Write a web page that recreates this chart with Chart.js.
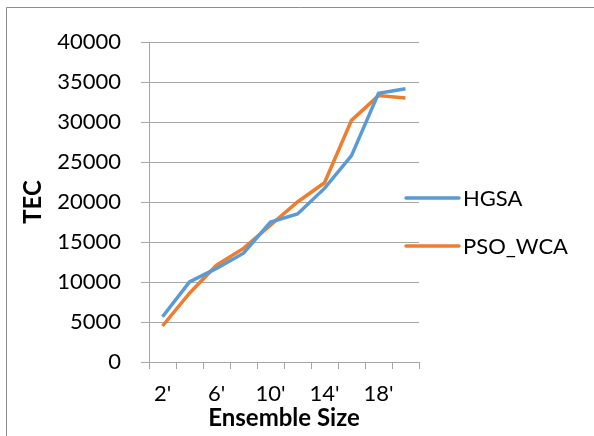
<!DOCTYPE html>
<html>
<head>
<meta charset="utf-8">
<script src="https://cdn.jsdelivr.net/npm/chart.js@4/dist/chart.umd.min.js"></script>
<style>
html,body{margin:0;padding:0;background:#fff;}
#wrap{width:594px;height:436px;position:relative;}
</style>
</head>
<body>
<div id="wrap"><canvas id="c" width="594" height="436"></canvas></div>
<script>
const categories = ["2'", "4'", "6'", "8'", "10'", "12'", "14'", "16'", "18'", "20'"];
const hgsa = [5650, 10000, 11700, 13600, 17500, 18500, 21700, 25800, 33600, 34150];
const psoWca = [4500, 8600, 12100, 14200, 17100, 20000, 22400, 30200, 33300, 33000];
const seriesNames = ["HGSA", "PSO_WCA"];
const seriesColors = ["#5B9BD5", "#ED7D31"];
const yTicks = [0, 5000, 10000, 15000, 20000, 25000, 30000, 35000, 40000];
const xTitle = "Ensemble Size";
const yTitle = "TEC";

const FONT = "Lato, 'Open Sans', sans-serif";
const AXIS = "#A6A6A6";

const borderPlugin = {
  id: 'border',
  beforeDraw(chart) {
    const ctx = chart.ctx;
    ctx.save();
    ctx.strokeStyle = '#8c8c8c';
    ctx.lineWidth = 1;
    ctx.beginPath();
    ctx.moveTo(6.5, 436);
    ctx.lineTo(6.5, 7.5);
    ctx.lineTo(594, 7.5);
    ctx.stroke();
    ctx.restore();
  }
};

const legendPlugin = {
  id: 'customLegend',
  afterDraw(chart) {
    const ctx = chart.ctx;
    ctx.save();
    const ys = [198, 246];
    chart.data.datasets.forEach((ds, i) => {
      ctx.strokeStyle = ds.borderColor;
      ctx.lineWidth = 3.5;
      ctx.lineCap = 'round';
      ctx.beginPath();
      ctx.moveTo(406, ys[i]);
      ctx.lineTo(459, ys[i]);
      ctx.stroke();
      ctx.fillStyle = '#000';
      ctx.font = "22px " + FONT;
      ctx.textBaseline = 'middle';
      ctx.textAlign = 'left';
      ctx.fillText(ds.label, 463, ys[i] + 1);
    });
    ctx.restore();
  }
};

new Chart(document.getElementById('c'), {
  type: 'line',
  data: {
    labels: categories,
    datasets: [
      { label: seriesNames[0], data: hgsa, borderColor: seriesColors[0], backgroundColor: seriesColors[0], borderWidth: 3.5, pointRadius: 0, tension: 0, fill: false },
      { label: seriesNames[1], data: psoWca, borderColor: seriesColors[1], backgroundColor: seriesColors[1], borderWidth: 3.5, pointRadius: 0, tension: 0, fill: false }
    ]
  },
  options: {
    responsive: false,
    animation: false,
    devicePixelRatio: 1,
    layout: { padding: { top: 42, right: 175, bottom: 0, left: 0 } },
    plugins: { legend: { display: false }, tooltip: { enabled: false } },
    scales: {
      x: {
        offset: true,
        grid: { offset: true, drawOnChartArea: false, drawTicks: true, tickLength: 7, color: AXIS },
        border: { color: AXIS, width: 1 },
        ticks: {
          autoSkip: false, maxRotation: 0, padding: 12, color: '#000',
          font: { family: FONT, size: 22 },
          callback: function(v, i) { return i % 2 === 0 ? categories[i] : ''; }
        },
        title: { display: true, text: xTitle, color: '#000', font: { family: FONT, size: 24, weight: 'bold' }, padding: { top: 0, bottom: 3 } },
        afterFit(scale) { scale.height = 74; }
      },
      y: {
        min: 0, max: 40000,
        afterBuildTicks(scale) { scale.ticks = yTicks.map(v => ({ value: v })); },
        grid: { color: AXIS, tickLength: 8, drawTicks: true },
        border: { color: AXIS, width: 1 },
        ticks: { padding: 20, color: '#000', font: { family: FONT, size: 22 }, callback: v => String(v) },
        title: { display: true, text: yTitle, color: '#000', font: { family: FONT, size: 24, weight: 'bold' }, padding: { top: 19, bottom: 0 } },
        afterFit(scale) { scale.width = 149; }
      }
    }
  },
  plugins: [borderPlugin, legendPlugin]
});
</script>
</body>
</html>
